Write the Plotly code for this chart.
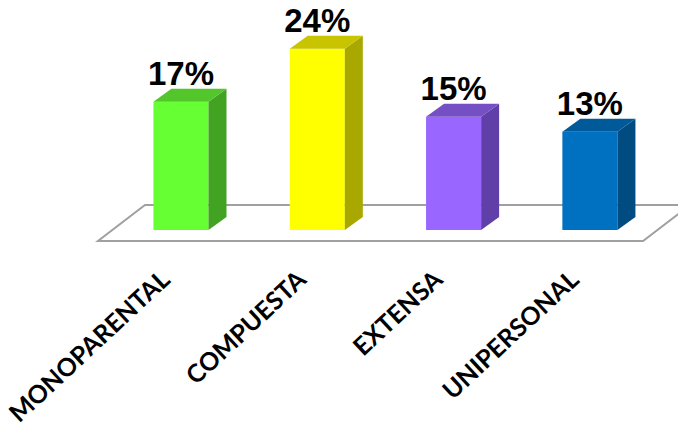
import plotly.graph_objects as go

categories = ["MONOPARENTAL", "COMPUESTA", "EXTENSA", "UNIPERSONAL"]
values = [17, 24, 15, 13]
value_labels = ["17%", "24%", "15%", "13%"]
front_colors = ["#66FF33", "#FFFF00", "#9966FF", "#0070C0"]
side_colors = ["#42A322", "#A8A800", "#613FA8", "#004B80"]
top_colors = ["#52C62A", "#C8C400", "#7550C4", "#005A9A"]

# geometry (axis units)
W = 0.404          # bar width in category units
DX = 0.132         # depth offset along x (category units)
DY = 1.72          # depth offset along y (value units)
LABEL_GAP = -0.6   # nudge of value labels (value units)

fig = go.Figure()

xs = list(range(len(categories)))

# front faces
fig.add_trace(go.Bar(
    x=xs, y=values, width=W, marker=dict(color=front_colors, line=dict(width=0)),
    hoverinfo="skip", showlegend=False,
))

# side and top faces
for i, v in enumerate(values):
    xr = i + W / 2
    xl = i - W / 2
    fig.add_trace(go.Scatter(
        x=[xr, xr + DX, xr + DX, xr, xr], y=[0, DY, v + DY, v, 0],
        mode="lines", fill="toself", fillcolor=side_colors[i],
        line=dict(width=0, color=side_colors[i]), hoverinfo="skip", showlegend=False,
    ))
    fig.add_trace(go.Scatter(
        x=[xl, xl + DX, xr + DX, xr, xl], y=[v, v + DY, v + DY, v, v],
        mode="lines", fill="toself", fillcolor=top_colors[i],
        line=dict(width=0, color=top_colors[i]), hoverinfo="skip", showlegend=False,
    ))

# value labels
fig.add_trace(go.Scatter(
    x=xs, y=[v + DY + LABEL_GAP for v in values], mode="text", text=value_labels,
    textposition="top center",
    textfont=dict(family="Liberation Sans, Arial, sans-serif",
                  size=33, color="#000000", weight="bold"),
    hoverinfo="skip", showlegend=False, cliponaxis=False,
))

# floor
fl_x = [-0.609, 3.390, 3.735, -0.264]
fl_y = [-1.457, -1.457, 3.311, 3.311]
path = "M {} {} L {} {} L {} {} L {} {} Z".format(
    fl_x[0], fl_y[0], fl_x[1], fl_y[1], fl_x[2], fl_y[2], fl_x[3], fl_y[3])
fig.add_shape(type="path", path=path, xref="x", yref="y", layer="below",
              line=dict(color="#A0A0A0", width=2), fillcolor="#FFFFFF")

fig.update_layout(
    width=678, height=428,
    margin=dict(l=0, r=0, t=0, b=177, autoexpand=False),
    paper_bgcolor="#FFFFFF", plot_bgcolor="#FFFFFF",
    showlegend=False,
    xaxis=dict(range=[-1.269, 3.705], tickvals=xs, ticktext=categories,
               tickangle=-43, ticks="", showgrid=False, zeroline=False, showline=False,
               automargin=False, ticklabelshift=-18, ticklabeloverflow="allow",
               tickfont=dict(family="Lato, Carlito, Calibri, sans-serif",
                             size=25, color="#000000", weight="bold"),
               fixedrange=True),
    yaxis=dict(range=[-3.84, 29.40], visible=False, showgrid=False, zeroline=False,
               automargin=False, fixedrange=True),
)

fig.write_html("out.html")
